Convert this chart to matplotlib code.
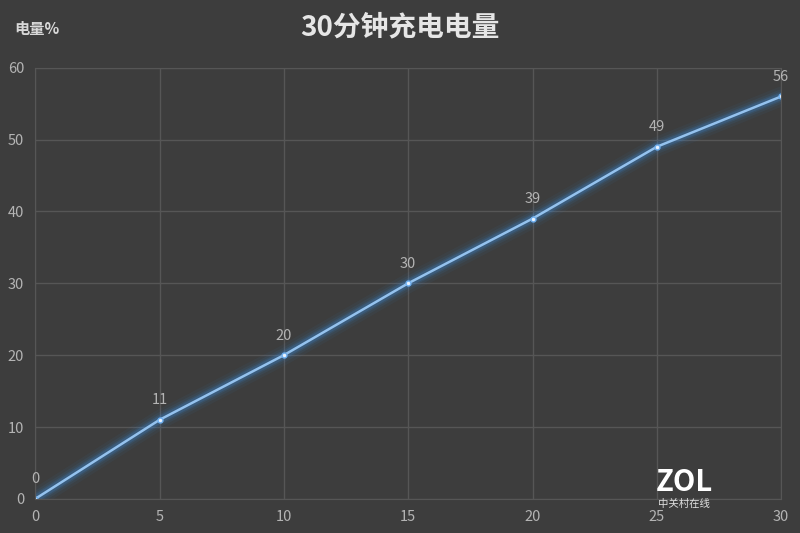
import matplotlib
matplotlib.use('Agg')
from matplotlib import pyplot as plt

plt.rcParams['font.family'] = ['Noto Sans CJK SC', 'DejaVu Sans']

# 充电时间(分钟) / 电量
minutes = [0, 5, 10, 15, 20, 25, 30]
charge = [0, 11, 20, 30, 39, 49, 56]
x_ticks = [0, 5, 10, 15, 20, 25, 30]
y_ticks = [0, 10, 20, 30, 40, 50, 60]

bg = '#3d3d3d'
grid = '#565656'
txt = '#b4b4b4'

fig = plt.figure(figsize=(8, 5.33), dpi=100, facecolor=bg)
ax = fig.add_axes([0.044, 0.064, 0.9325, 0.809])
ax.set_facecolor(bg)

# glow
for lw, a in [(14, 0.05), (10, 0.08), (7, 0.12), (5, 0.2)]:
    ax.plot(minutes, charge, color='#3a8ee0', lw=lw, alpha=a, solid_capstyle='round')
ax.plot(minutes, charge, color='#94c2ee', lw=1.8)
ax.plot(minutes, charge, 'o', color='#e8f2ff', ms=3.5, mec='#6fb0f0', mew=1)

for xv, yv in zip(minutes, charge):
    ax.annotate(str(yv), (xv, yv), xytext=(0, 9), textcoords='offset points',
                ha='center', va='bottom', color=txt, fontsize=10.5)

ax.set_xlim(0, 30)
ax.set_ylim(0, 60)
ax.set_xticks(x_ticks)
ax.set_yticks(y_ticks)
ax.grid(True, color=grid, lw=1)
for s in ax.spines.values():
    s.set_color(grid)
ax.tick_params(colors=txt, length=0, labelsize=10.5, pad=8)
for lab in ax.get_xticklabels() + ax.get_yticklabels():
    lab.set_color(txt)

fig.text(0.5, 0.948, '30分钟充电电量', ha='center', va='center',
         color='#e6e6e6', fontsize=20, fontweight='bold')
fig.text(0.018, 0.945, '电量%', ha='left', va='center', color='#d8d8d8',
         fontsize=11, fontweight='bold')

# watermark
fig.text(0.855, 0.095, 'ZOL', ha='center', va='center', color='white',
         fontsize=21, fontweight='bold')
fig.text(0.855, 0.054, '中关村在线', ha='center', va='center', color='#e0e0e0',
         fontsize=7.5)

fig.savefig('out.png', dpi=100, facecolor=bg)
